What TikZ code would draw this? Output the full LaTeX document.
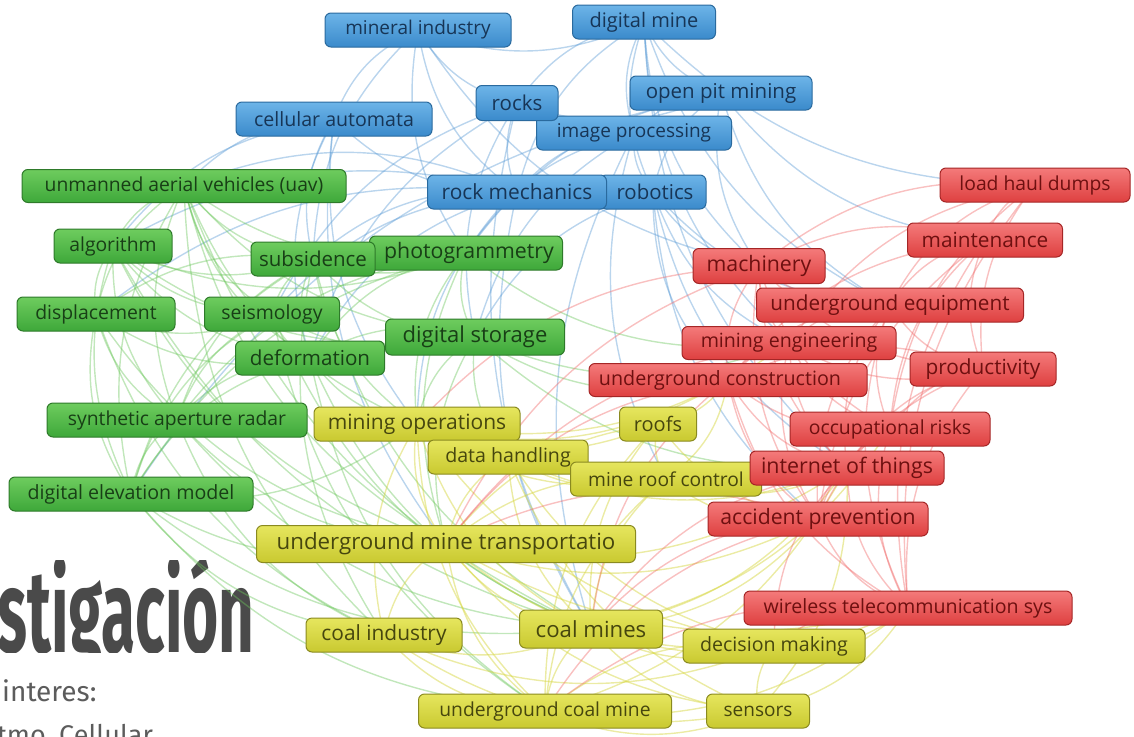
\documentclass[tikz,border=0pt]{standalone}
\usepackage{fontspec}
\setmainfont{Open Sans}
\newfontfamily\titlefont{Fira Sans}
\usetikzlibrary{backgrounds}
\definecolor{bT}{HTML}{6DB4E8}\definecolor{bB}{HTML}{3A8ACB}\definecolor{bD}{HTML}{2A6A9E}\definecolor{bX}{HTML}{173556}
\definecolor{gT}{HTML}{6ECC5E}\definecolor{gB}{HTML}{3EA83A}\definecolor{gD}{HTML}{2E7A2A}\definecolor{gX}{HTML}{183F16}
\definecolor{yT}{HTML}{E6E65E}\definecolor{yB}{HTML}{C9C930}\definecolor{yD}{HTML}{8A8A20}\definecolor{yX}{HTML}{46460E}
\definecolor{rT}{HTML}{F47A7A}\definecolor{rB}{HTML}{DE4040}\definecolor{rD}{HTML}{A52626}\definecolor{rX}{HTML}{6E1010}
\definecolor{bE}{HTML}{5B9BD5}\definecolor{gE}{HTML}{6CC65C}\definecolor{yE}{HTML}{D6D640}\definecolor{rE}{HTML}{F06A6A}
\definecolor{ttl}{HTML}{4A4A4A}
\tikzset{
 kw/.style={rounded corners=6pt, draw, line width=1pt, minimum height=34pt, inner xsep=0pt, inner ysep=0pt, font=\fontsize{19}{19}\selectfont},
 fs/.style={font=\fontsize{#1}{#1}\selectfont},
 bl/.style={kw, top color=bT, bottom color=bB, draw=bD, text=bX},
 gr/.style={kw, top color=gT, bottom color=gB, draw=gD, text=gX},
 ye/.style={kw, top color=yT, bottom color=yB, draw=yD, text=yX},
 rd/.style={kw, top color=rT, bottom color=rB, draw=rD, text=rX},
 eb/.style={draw=bE, line width=1.4pt, opacity=0.42},
 eg/.style={draw=gE, line width=1.4pt, opacity=0.42},
 ey/.style={draw=yE, line width=1.4pt, opacity=0.48},
 er/.style={draw=rE, line width=1.4pt, opacity=0.42},
}
\begin{document}
\begin{tikzpicture}[x=1pt,y=-1pt]
\useasboundingbox (0,0) rectangle (1134,736);
\clip (0,0) rectangle (1134,736);
% blue
\node[bl, fs=19, minimum width=186pt] (mi) at (418,30) {mineral industry};
\node[bl, fs=20, minimum width=143pt] (dm) at (644,22) {digital mine};
\node[bl, fs=20.5, minimum width=182pt] (op) at (721,93) {open pit mining};
\node[bl, fs=19.6, minimum width=196pt] (ca) at (334,119) {cellular automata};
\node[bl, fs=19, minimum width=195pt] (ip) at (634,133) {image processing};
\node[bl, fs=20.5, minimum width=82pt, minimum height=35pt] (ro) at (517,103) {rocks};
\node[bl, fs=20.4, minimum width=106pt] (rb) at (653,192) {\hspace*{4pt}robotics};
\node[bl, fs=20.9, minimum width=179pt] (rm) at (517,192) {rock mechanics};
% green
\node[gr, fs=19.3, minimum width=324pt, minimum height=33pt] (uav) at (184,186) {unmanned aerial vehicles (uav)};
\node[gr, fs=19.3, minimum width=118pt] (alg) at (113,246) {algorithm};
\node[gr, fs=21.3, minimum width=193pt] (pho) at (466,253) {\hspace*{6pt}photogrammetry};
\node[gr, fs=20.5, minimum width=124pt] (sub) at (313,259) {subsidence};
\node[gr, fs=19.4, minimum width=158pt] (dis) at (96,314) {displacement};
\node[gr, fs=19.4, minimum width=135pt] (sei) at (272,314) {seismology};
\node[gr, fs=20.6, minimum width=149pt] (def) at (310,358) {deformation};
\node[gr, fs=22, minimum width=179pt, minimum height=36pt] (ds) at (475,337) {digital storage};
\node[gr, fs=19.3, minimum width=260pt] (sar) at (177,420) {synthetic aperture radar};
\node[gr, fs=19.6, minimum width=244pt] (dem) at (131,494) {digital elevation model};
% yellow
\node[ye, fs=21, minimum width=206pt] (mo) at (417,424) {mining operations};
\node[ye, fs=20, minimum width=77pt] (rf) at (658,424) {roofs};
\node[ye, fs=19.6, minimum width=160pt] (dh) at (508,457) {data handling};
\node[ye, fs=19.2, minimum width=191pt] (mrc) at (666,479) {mine roof control};
\node[ye, fs=22.3, minimum width=379pt, minimum height=37pt] (umt) at (446,544) {underground mine transportatio};
\node[ye, fs=20.9, minimum width=156pt] (ci) at (384,635) {coal industry};
\node[ye, fs=22.2, minimum width=143pt, minimum height=38pt] (cm) at (591,629) {coal mines};
\node[ye, fs=19.6, minimum width=182pt] (dmk) at (774,646) {decision making};
\node[ye, fs=19.3, minimum width=253pt] (ucm) at (545,711) {underground coal mine};
\node[ye, fs=19, minimum width=103pt] (sen) at (758,711) {sensors};
% red
\node[rd, fs=19.3, minimum width=190pt] (lhd) at (1035,185) {load haul dumps};
\node[rd, fs=20.8, minimum width=155pt] (mnt) at (985,240) {maintenance};
\node[rd, fs=21.3, minimum width=132pt, minimum height=35pt] (mac) at (759,266) {machinery};
\node[rd, fs=20.7, minimum width=267pt] (ue) at (890,305) {underground equipment};
\node[rd, fs=19.6, minimum width=214pt, minimum height=33pt] (me) at (789,343) {mining engineering};
\node[rd, fs=20.8, minimum width=146pt] (pro) at (983,369) {productivity};
\node[rd, fs=19.7, minimum width=278pt, minimum height=33pt] (uc) at (728,380) {underground construction\hspace*{16pt}};
\node[rd, fs=19.4, minimum width=200pt] (ocr) at (890,429) {occupational risks};
\node[rd, fs=21.4, minimum width=194pt] (iot) at (847,468) {internet of things};
\node[rd, fs=21.2, minimum width=220pt] (ap) at (818,519) {accident prevention};
\node[rd, fs=19.6, minimum width=328pt] (wts) at (908,608) {wireless telecommunication sys};
\begin{pgfonlayer}{background}
\begin{scope}
\clip (0,560) rectangle (300,652);
\node[anchor=base west, inner sep=0pt, text=ttl, font=\titlefont\bfseries\fontsize{117}{117}\selectfont] (tt) at (-3,652) {\scalebox{0.53}[1]{stigación}};
\end{scope}
\node[anchor=base west, inner sep=0pt, text=ttl!90, font=\titlefont\fontsize{28}{28}\selectfont] (t1) at (2,701) {interes:};
\node[anchor=base west, inner sep=0pt, text=ttl!90, font=\titlefont\fontsize{27}{27}\selectfont] (t2) at (-3,744) {tmo, Cellular};
\foreach \a/\b in {mi/dm, mi/ro, mi/rm, mi/ca, mi/pho, mi/sub, mi/mac, dm/op, dm/ip, dm/rb, dm/ro, dm/rm, dm/lhd, dm/mac, dm/ue, dm/iot, dm/me, ro/rm, ro/ip, ro/op, ro/sei, ro/def, ro/ds, ro/cm, ca/rm, ca/sub, ca/uav, ca/alg, ca/def, ca/mo, ca/umt, op/ip, op/rb, op/pho, op/mac, op/mnt, op/ue, op/dem, ip/rm, ip/pho, ip/ds, ip/rb, ip/cm, ip/mrc, rm/sub, rm/def, rm/sei, rm/dis, rm/alg, rm/cm, rm/mo, rm/uav, rb/mac, rb/ue, rb/me, rb/uc, rb/iot, rb/ap, rb/ds}
  \draw[eb] (\a.center) to[bend right=22] (\b.center);
\foreach \a/\b in {uav/alg, uav/sub, uav/pho, uav/dis, uav/sei, uav/ds, uav/def, uav/sar, uav/dem, uav/mo, uav/umt, uav/cm, uav/ci, alg/dis, alg/sub, alg/sei, alg/def, alg/sar, alg/dem, alg/pho, alg/ds, alg/cm, alg/umt, sub/def, sub/sei, sub/sar, sub/dem, sub/dis, sub/pho, sub/ds, sub/mo, sub/cm, sub/ci, pho/ds, pho/def, pho/dem, pho/sar, pho/mo, pho/me, pho/umt, dis/sei, dis/def, dis/sar, dis/dem, dis/umt, dis/ci, sei/def, sei/sar, sei/dem, sei/ds, sei/cm, sei/ucm, ds/def, ds/dh, ds/mo, ds/umt, ds/uc, ds/me, ds/iot, def/sar, def/dem, def/ucm, def/cm, def/mo, sar/dem, sar/umt, sar/ci, sar/cm, dem/umt, dem/ci, dem/ucm, dem/cm, dem/mo}
  \draw[eg] (\a.center) to[bend right=22] (\b.center);
\foreach \a/\b in {mo/dh, mo/umt, mo/cm, mo/ci, mo/ucm, mo/rf, mo/mrc, mo/dmk, mo/uc, mo/me, rf/mrc, rf/cm, rf/ucm, rf/uc, rf/ap, rf/umt, dh/mrc, dh/umt, dh/cm, dh/dmk, dh/iot, dh/sen, mrc/cm, mrc/ucm, mrc/umt, mrc/ap, mrc/uc, mrc/iot, umt/cm, umt/ci, umt/ucm, umt/dmk, umt/sen, umt/ap, umt/wts, umt/iot, ci/cm, ci/ucm, ci/dmk, ci/sen, cm/ucm, cm/dmk, cm/sen, cm/wts, cm/ap, cm/iot, cm/ocr, dmk/ucm, dmk/sen, dmk/wts, ucm/sen, ucm/wts, ucm/iot, sen/wts, sen/iot}
  \draw[ey] (\a.center) to[bend right=22] (\b.center);
\foreach \a/\b in {lhd/mnt, lhd/mac, lhd/ue, lhd/pro, lhd/ocr, lhd/wts, lhd/me, mnt/mac, mnt/ue, mnt/pro, mnt/uc, mnt/ocr, mnt/wts, mnt/ap, mac/ue, mac/me, mac/uc, mac/pro, mac/ocr, mac/iot, mac/ap, mac/umt, mac/mo, ue/me, ue/pro, ue/uc, ue/ocr, ue/iot, ue/ap, ue/wts, me/uc, me/pro, me/ocr, me/iot, me/ap, me/umt, pro/uc, pro/ocr, pro/iot, pro/ap, pro/wts, uc/ocr, uc/iot, uc/ap, uc/umt, uc/cm, uc/wts, ocr/iot, ocr/ap, ocr/wts, iot/ap, iot/wts, iot/cm, iot/dmk, ap/wts, ap/cm, ap/umt, ap/ucm, wts/ucm, wts/dmk}
  \draw[er] (\a.center) to[bend right=22] (\b.center);
\end{pgfonlayer}
\end{tikzpicture}
\end{document}
